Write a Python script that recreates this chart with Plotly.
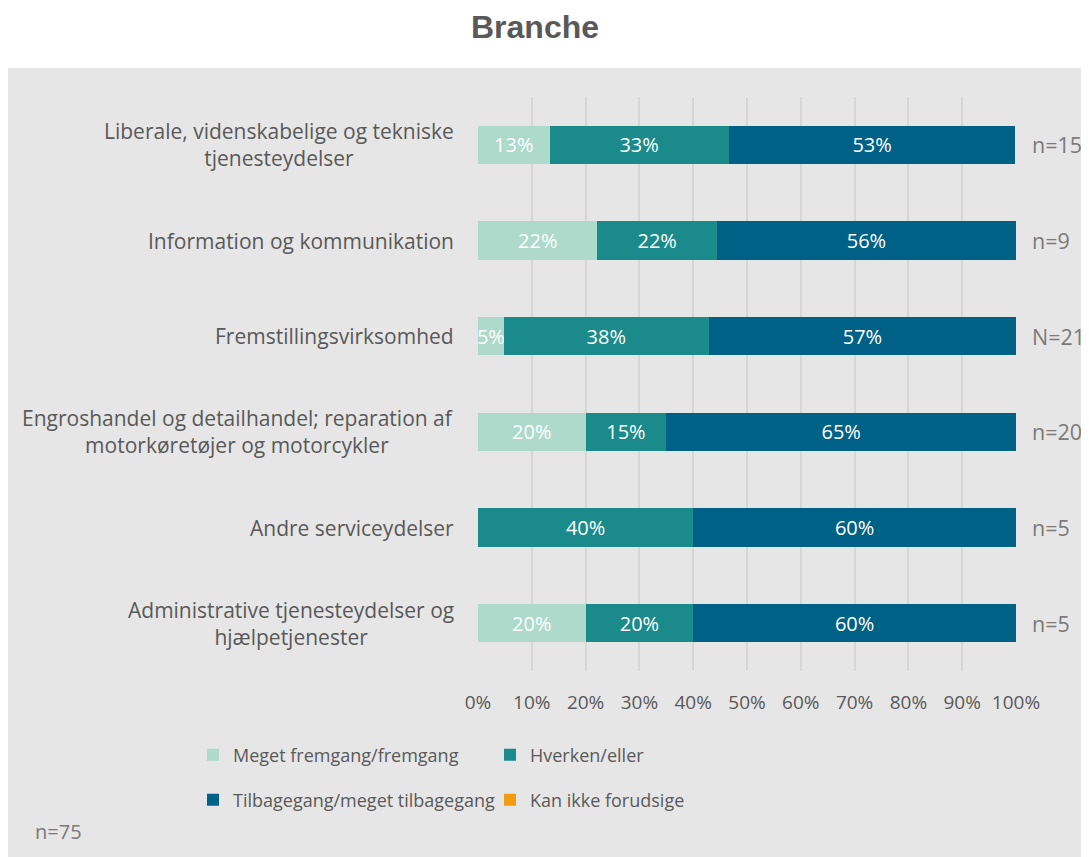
import plotly.graph_objects as go

categories = [
    "Liberale, videnskabelige og tekniske<br>tjenesteydelser",
    "Information og kommunikation",
    "Fremstillingsvirksomhed",
    "Engroshandel og detailhandel; reparation af<br>motorkøretøjer og motorcykler",
    "Andre serviceydelser",
    "Administrative tjenesteydelser og<br>hjælpetjenester",
]
n_labels = ["n=15", "n=9", "N=21", "n=20", "n=5", "n=5"]

meget_fremgang = [13.3, 22.2, 4.8, 20, 0, 20]
hverken = [33.3, 22.2, 38.1, 15, 40, 20]
tilbagegang = [53.3, 55.6, 57.1, 65, 60, 60]
kan_ikke = [0, 0, 0, 0, 0, 0]

series = [
    ("Meget fremgang/fremgang", meget_fremgang, "#ADDACA", "legend"),
    ("Hverken/eller", hverken, "#1A8A8A", "legend"),
    ("Tilbagegang/meget tilbagegang", tilbagegang, "#006187", "legend2"),
    ("Kan ikke forudsige", kan_ikke, "#F39C12", "legend2"),
]

FONT = "Open Sans, sans-serif"
TXT = "#595959"

OFF = 8  # page body margin
W, H = 1089, 857
L, T = 478 - OFF, 97 - OFF
R, B = W - (1016 - OFF), H - (671 - OFF)
pw, ph = W - L - R, H - T - B

def px(x):
    return (x - OFF - L) / pw

def py(y):
    return (H - B - (y - OFF)) / ph

fig = go.Figure()
for name, vals, color, lg in series:
    fig.add_trace(go.Bar(
        y=categories, x=vals, name=name, orientation="h",
        marker=dict(color=color, line=dict(width=0)),
        text=[f"{round(v)}%" if v > 0 else "" for v in vals],
        textposition="inside", insidetextanchor="middle", textangle=0,
        textfont=dict(color="white", size=20, family=FONT),
        constraintext="none", cliponaxis=False,
        legend=lg, hoverinfo="skip",
    ))

annotations = []
for cat, nl in zip(categories, n_labels):
    annotations.append(dict(
        x=px(456), xref="paper", y=cat, yref="y", text=cat,
        xanchor="right", yanchor="middle", align="center", showarrow=False,
        font=dict(size=21, color=TXT, family=FONT),
    ))
    annotations.append(dict(
        x=px(1030), xref="paper", y=cat, yref="y", text=nl,
        xanchor="left", yanchor="middle", showarrow=False,
        font=dict(size=21.5, color="#7a7a7a", family=FONT),
    ))
annotations.append(dict(
    x=px(33), xref="paper", y=py(831), yref="paper", text="n=75",
    xanchor="left", yanchor="middle", showarrow=False,
    font=dict(size=20, color="#7a7a7a", family=FONT),
))

fig.update_layout(
    width=W, height=H,
    margin=dict(l=L, r=R, t=T, b=B, autoexpand=False),
    paper_bgcolor="white", plot_bgcolor="rgba(0,0,0,0)",
    barmode="stack", bargap=0.6,
    title=dict(text="<b>Branche</b>", x=(535 - OFF) / W, xanchor="center",
               y=1 - (27 - OFF) / H, yanchor="middle",
               font=dict(family="Liberation Sans, Arial", size=32, color=TXT)),
    xaxis=dict(range=[0, 100], tickvals=list(range(0, 101, 10)),
               ticktext=[f"{v}%" for v in range(0, 101, 10)],
               showgrid=True, gridcolor="#D6D6D6", gridwidth=1.5, zeroline=False,
               ticks="outside", ticklen=14, tickcolor="rgba(0,0,0,0)",
               tickfont=dict(size=19, color=TXT, family=FONT), fixedrange=True),
    yaxis=dict(categoryorder="array", categoryarray=categories, autorange="reversed",
               showticklabels=False, showgrid=False, zeroline=False, fixedrange=True),
    shapes=[dict(type="rect", xref="paper", yref="paper", layer="below",
                 x0=px(8), x1=px(1100), y0=py(68), y1=py(870),
                 fillcolor="#E6E6E6", line=dict(width=0))],
    annotations=annotations,
    legend=dict(orientation="h", x=px(193), xanchor="left", y=py(755), yanchor="middle",
                entrywidth=252, entrywidthmode="pixels", bgcolor="rgba(0,0,0,0)",
                font=dict(size=18, color=TXT, family=FONT), traceorder="normal"),
    legend2=dict(orientation="h", x=px(193), xanchor="left", y=py(800), yanchor="middle",
                 entrywidth=252, entrywidthmode="pixels", bgcolor="rgba(0,0,0,0)",
                 font=dict(size=18, color=TXT, family=FONT), traceorder="normal"),
)

fig.write_html("out.html")
